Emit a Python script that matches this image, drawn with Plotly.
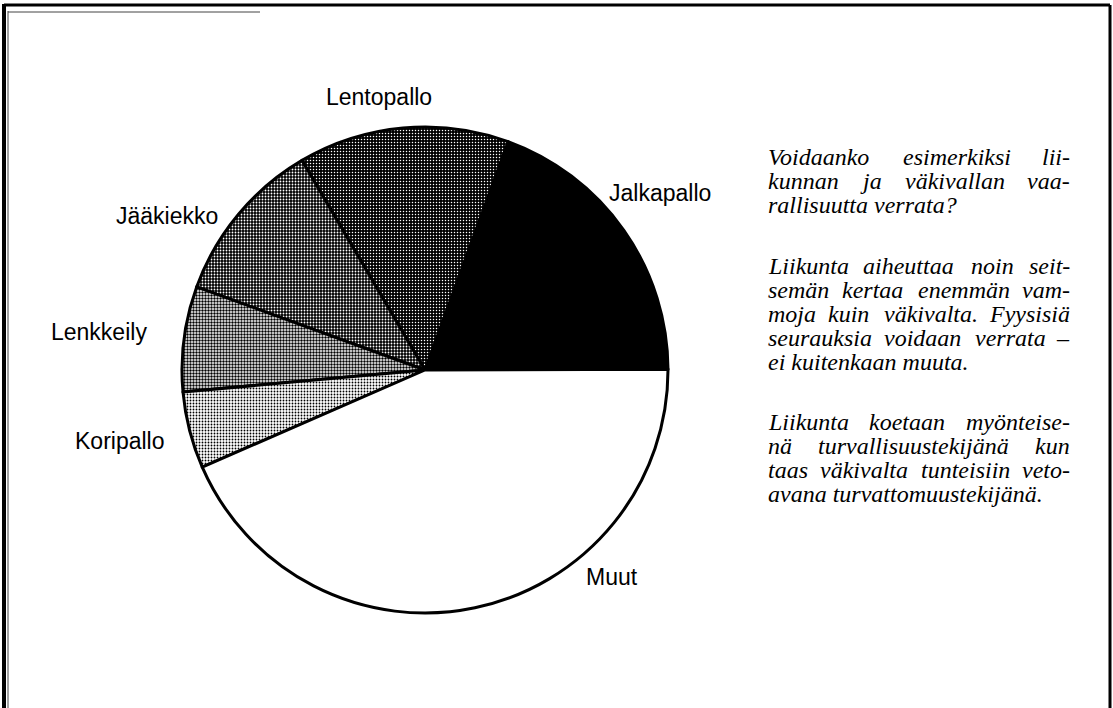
import plotly.graph_objects as go

labels = ["Jalkapallo", "Lentopallo", "Jääkiekko", "Lenkkeily", "Koripallo", "Muut"]
values = [19.4, 14.0, 11.0, 7.0, 5.1, 43.5]
bg_colors = ["#000000", "#000000", "#000000", "#ffffff", "#ffffff", "#ffffff"]
fg_colors = ["#000000", "#ffffff", "#ffffff", "#000000", "#000000", "#ffffff"]
shapes_pat = ["", ".", ".", ".", ".", ""]
solid = [0.3, 0.2, 0.3, 0.5, 0.3, 0.3]

label_pos = {
    "Lentopallo": (379, 97, "center"),
    "Jalkapallo": (607, 193, "left"),
    "Jääkiekko": (220, 216, "right"),
    "Lenkkeily": (149, 332, "right"),
    "Koripallo": (167, 441, "right"),
    "Muut": (584, 577, "left"),
}

paragraphs = [
    ["Voidaanko esimerkiksi lii-", "kunnan ja väkivallan vaa-", "rallisuutta verrata?"],
    ["Liikunta aiheuttaa noin seit-", "semän kertaa enemmän vam-", "moja kuin väkivalta. Fyysisiä",
     "seurauksia voidaan verrata –", "ei kuitenkaan muuta."],
    ["Liikunta koetaan myönteise-", "nä turvallisuustekijänä kun", "taas väkivalta tunteisiin veto-",
     "avana turvattomuustekijänä."],
]
para_top = [157, 266, 422]

W, H = 1113, 708
cx, cy, r = 425, 370, 243
TX0, TX1 = 766, 1072
FS = 24

# approximate Times-Italic advance widths (per 1000 em), for justification
TW = dict(a=500, b=500, c=444, d=500, e=444, f=278, g=500, h=500, i=278, j=278, k=444, l=278,
          m=722, n=500, o=500, p=500, q=500, r=389, s=389, t=278, u=500, v=444, w=667, x=444,
          y=444, z=389)
TW.update({".": 250, ",": 250, "-": 333, "?": 500, "ä": 500, "ö": 500, "L": 556, "V": 611,
           "F": 611, "–": 500})

def wwidth(word):
    return sum(TW.get(c, 500) for c in word) * FS / 1000

fig = go.Figure(go.Pie(
    labels=labels, values=values, sort=False, direction="counterclockwise",
    rotation=20, textinfo="none", hoverinfo="label+percent",
    marker=dict(colors=bg_colors, line=dict(color="black", width=3),
                pattern=dict(shape=shapes_pat, fgcolor=fg_colors, bgcolor=bg_colors,
                             solidity=solid, size=3, fillmode="replace")),
    domain=dict(x=[(cx - r) / W, (cx + r) / W], y=[(H - cy - r) / H, (H - cy + r) / H]),
    showlegend=False,
))

ann = []
for lab in labels:
    x, y, anc = label_pos[lab]
    ann.append(dict(text=lab, x=x / W, y=1 - y / H, xref="paper", yref="paper",
                    xanchor=anc, yanchor="middle", showarrow=False,
                    font=dict(family="Liberation Sans, Arial", size=23, color="black")))

def tfont():
    return dict(family="Liberation Serif, Times New Roman", size=FS, color="black")

for lines, top in zip(paragraphs, para_top):
    for i, line in enumerate(lines):
        y = 1 - (top + i * 24) / H
        last = i == len(lines) - 1
        words = line.split(" ")
        if last or len(words) < 2:
            ann.append(dict(text="<i>" + line + "</i>", x=TX0 / W, y=y, xref="paper", yref="paper",
                            xanchor="left", yanchor="middle", showarrow=False, font=tfont()))
            continue
        widths = [wwidth(w) for w in words]
        gap = (TX1 - TX0 - sum(widths)) / (len(words) - 1)
        xpos = TX0
        for j, w in enumerate(words):
            if j == 0:
                xx, anc = TX0, "left"
            elif j == len(words) - 1:
                xx, anc = TX1, "right"
            else:
                xx, anc = xpos + widths[j] / 2, "center"
            ann.append(dict(text="<i>" + w + "</i>", x=xx / W, y=y, xref="paper", yref="paper",
                            xanchor=anc, yanchor="middle", showarrow=False, font=tfont()))
            xpos += widths[j] + gap

shapes = [
    dict(type="line", xref="paper", yref="paper", x0=4 / W, x1=4 / W, y0=0, y1=1 - 4 / H, line=dict(color="black", width=4)),
    dict(type="line", xref="paper", yref="paper", x0=4 / W, x1=1110 / W, y0=1 - 5 / H, y1=1 - 5 / H, line=dict(color="black", width=3)),
    dict(type="line", xref="paper", yref="paper", x0=1110 / W, x1=1110 / W, y0=0, y1=1 - 5 / H, line=dict(color="black", width=3)),
    dict(type="line", xref="paper", yref="paper", x0=8 / W, x1=8 / W, y0=0, y1=1 - 11 / H, line=dict(color="#444", width=1)),
    dict(type="line", xref="paper", yref="paper", x0=8 / W, x1=260 / W, y0=1 - 12 / H, y1=1 - 12 / H, line=dict(color="#444", width=1)),
]

fig.update_layout(width=W, height=H, margin=dict(l=0, r=0, t=0, b=0),
                  paper_bgcolor="white", plot_bgcolor="white",
                  annotations=ann, shapes=shapes)
fig.write_html("out.html", config={"displayModeBar": False},
               post_script="document.body.style.margin='0';")
